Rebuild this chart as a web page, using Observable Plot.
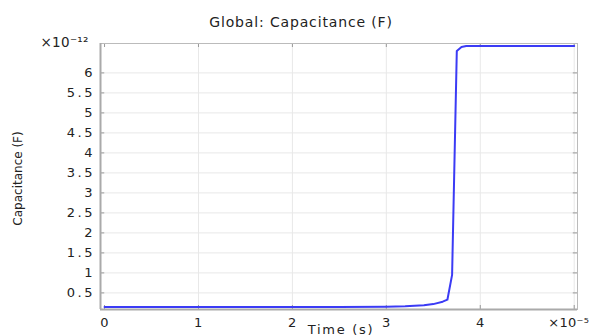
<!DOCTYPE html>
<html><head><meta charset="utf-8">
<script src="https://cdn.jsdelivr.net/npm/d3@7"></script>
<script src="https://cdn.jsdelivr.net/npm/@observablehq/plot@0.6"></script>
<style>body{margin:0;background:#fff}svg{display:block}</style>
</head><body><div id="chart"></div>
<script>
// time in units of 1e-5 s, capacitance in units of 1e-12 F
const time = [0, 0.5, 1, 1.5, 2, 2.5, 3, 3.2, 3.4, 3.5, 3.6, 3.65, 3.7, 3.75, 3.8, 3.85, 4, 4.5, 5];
const capacitance = [0.15, 0.15, 0.15, 0.15, 0.15, 0.15, 0.155, 0.165, 0.19, 0.22, 0.28, 0.33, 0.95, 6.55, 6.65, 6.67, 6.67, 6.67, 6.67];
const xTicks = [0, 1, 2, 3, 4];
const xGrid = [1, 2, 3, 4, 5];
const yTicks = [0.5, 1, 1.5, 2, 2.5, 3, 3.5, 4, 4.5, 5, 5.5, 6];
const xDomain = [-0.043, 5.035];
const yDomain = [0.085, 6.735];

const data = time.map((t, i) => ({t, c: capacitance[i]}));
const tx = 0.045, ty = 0.1;
const chart = Plot.plot({
  width: 589, height: 336,
  marginLeft: 100, marginRight: 12, marginTop: 43, marginBottom: 27,
  style: {fontFamily: "DejaVu Sans", fontSize: "12px", color: "#222", background: "#fff", overflow: "visible"},
  x: {domain: xDomain, axis: null},
  y: {domain: yDomain, axis: null},
  marks: [
    Plot.gridX(xGrid, {stroke: "#e8e8e8", strokeOpacity: 1}),
    Plot.gridY(yTicks, {stroke: "#e8e8e8", strokeOpacity: 1}),
    Plot.ruleY(yTicks, {x1: xDomain[0], x2: xDomain[0] + tx, stroke: "#999"}),
    Plot.ruleY(yTicks, {x1: xDomain[1] - tx, x2: xDomain[1], stroke: "#999"}),
    Plot.ruleX(xGrid.concat([0]), {y1: yDomain[0], y2: yDomain[0] + ty, stroke: "#999"}),
    Plot.ruleX(xGrid.concat([0]), {y1: yDomain[1] - ty, y2: yDomain[1], stroke: "#999"}),
    Plot.frame({stroke: "#bbb"}),
    Plot.ruleX([xDomain[0]], {stroke: "#aaa", strokeWidth: 2}),
    Plot.ruleY([yDomain[0]], {stroke: "#aaa", strokeWidth: 2}),
    Plot.line(data, {x: "t", y: "c", stroke: "#3b3bf5", strokeWidth: 2}),
    Plot.text(yTicks, {x: xDomain[0], y: d => d, text: d => String(d), textAnchor: "end", dx: -5.5, fontSize: 13}),
    Plot.text(xTicks, {x: d => d, y: yDomain[0], text: d => String(d), dy: 13, dx: 1, fontSize: 13}),
    Plot.text(["×10⁻⁵"], {x: 5, y: yDomain[0], dy: 13, dx: 15, textAnchor: "end", fontSize: 13}),
    Plot.text(["×10⁻¹²"], {frameAnchor: "top-left", dx: -60, dy: -6, fontSize: 13.5}),
    Plot.text(["Global: Capacitance (F)"], {frameAnchor: "top", dx: -38, dy: -26, fontSize: 14}),
    Plot.text(["Time (s)"], {frameAnchor: "bottom", dx: 2, dy: 24, fontSize: 13}),
    Plot.text(["Capacitance (F)"], {frameAnchor: "left", textAnchor: "middle", dx: -82, dy: 2, rotate: -90, fontSize: 12})
  ]
});
const spacing = ["2.5px", "2.5px", "0.3px", "0.3px", "0.85px", "1.7px", "0px"];
d3.select(chart).selectAll("g[aria-label='text']").each(function(_, i) {
  d3.select(this).attr("letter-spacing", spacing[i] || "0px");
});
document.getElementById("chart").append(chart);
</script></body></html>
